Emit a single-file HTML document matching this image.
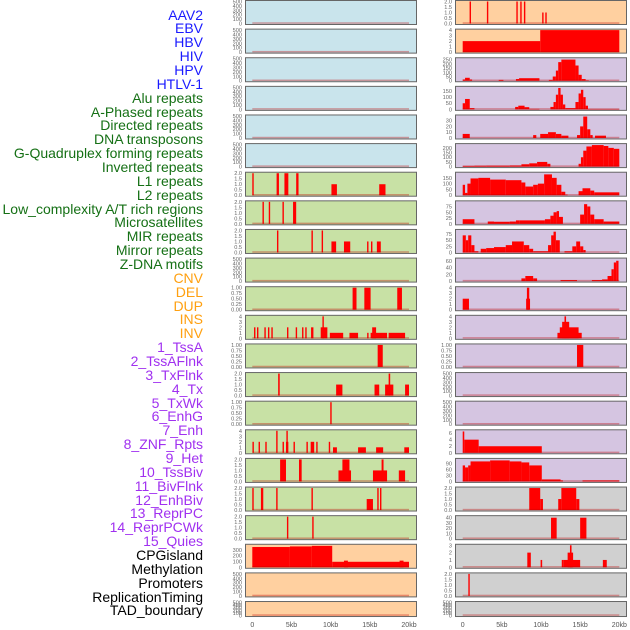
<!DOCTYPE html>
<html><head><meta charset="utf-8">
<style>
html,body{margin:0;padding:0;background:#fff;}
#wrap{position:relative;width:630px;height:630px;overflow:hidden;}
.lab{position:absolute;right:427px;font-family:"Liberation Sans",sans-serif;font-size:14px;line-height:14px;white-space:nowrap;}
svg{position:absolute;left:0;top:0;}
</style></head>
<body>
<div id="wrap">
<div id="labels"></div>
<svg id="svg" width="630" height="630"></svg>
</div>
<script>
// ---- data ----
const trackLabels = ["AAV2","EBV","HBV","HIV","HPV","HTLV-1","Alu repeats","A-Phased repeats","Directed repeats","DNA transposons","G-Quadruplex forming repeats","Inverted repeats","L1 repeats","L2 repeats","Low_complexity A/T rich regions","Microsatellites","MIR repeats","Mirror repeats","Z-DNA motifs","CNV","DEL","DUP","INS","INV","1_TssA","2_TssAFlnk","3_TxFlnk","4_Tx","5_TxWk","6_EnhG","7_Enh","8_ZNF_Rpts","9_Het","10_TssBiv","11_BivFlnk","12_EnhBiv","13_ReprPC","14_ReprPCWk","15_Quies","CPGisland","Methylation","Promoters","ReplicationTiming","TAD_boundary"];
const labelGroups = [6,13,5,15,5];
const groupColors = ["#1a1aff","#157015","#ffa010","#a030f0","#000000"];
const xTickLabels = ["0","5kb","10kb","15kb","20kb"];
const xTickValues = [0,5,10,15,20];
const T500=[0,100,200,300,400,500], T2=[0,0.5,1,1.5,2], T1=[0,0.25,0.5,0.75,1], T4=[0,1,2,3,4];
// left column panels: [yMax, ticks, segments [startKb,endKb,value]]
const leftMax = [500,500,500,500,500,500,2,2,2,500,1,4,1,2,1,4,2,2,2,380,500,500];
const leftTicks = [T500,T500,T500,T500,T500,T500,T2,T2,T2,T500,T1,T4,T1,T2,T1,T4,T2,T2,T2,[0,100,200,300],T500,T500];
const leftSegs = [
 [],[],[],[],[],[],
 [[0,0.1,2],[3.1,3.4,2],[4.1,4.6,2],[5.6,5.9,2],[10.1,10.8,1],[16.2,17.0,1]],
 [[1.3,1.4,2],[2.1,2.2,2],[3.85,3.95,2],[5.2,5.6,2]],
 [[3.15,3.25,2],[7.55,7.65,2],[8.85,8.95,2],[10.1,10.7,1],[11.7,12.5,1],[14.65,14.75,1],[15.15,15.25,1],[15.9,16.4,1]],
 [],
 [[12.8,13.3,1],[14.3,15.1,1],[18.5,19.1,1]],
 [[0.22,0.3,2],[0.6,0.68,2],[1.54,1.62,2],[2.0,2.1,2],[2.43,2.51,2],[4.43,4.51,2],[5.54,5.62,2],[6.35,6.43,2],[6.76,6.84,2],[7.5,7.8,2],[8.73,9.58,2],[8.95,9.1,4],[9.9,11.6,1],[12.4,13.5,1],[14.66,14.74,1],[15.1,17.2,1],[15.3,15.8,2],[17.4,19.5,1]],
 [[16.0,16.65,1]],
 [[3.3,3.5,2],[10.7,11.5,1],[15.6,16.2,1],[16.95,18.0,1],[17.4,17.6,2],[19.5,20.0,1]],
 [[9.95,10.1,1]],
 [[0.02,0.1,2],[0.8,0.88,2],[1.66,1.74,2],[3.05,3.15,4],[3.86,3.94,2],[4.3,4.6,2],[4.35,4.5,4],[5.26,5.34,2],[6.91,6.99,2],[7.45,7.9,2],[8.16,8.24,2],[9.76,9.84,2],[10.3,10.8,1],[13.5,14.5,1],[15.8,16.7,1],[19.4,20.0,1]],
 [[3.55,4.3,2],[5.96,6.3,2],[11.0,12.6,1],[11.5,12.4,2],[15.4,17.2,1],[16.5,16.75,2],[18.7,19.5,1]],
 [[0,0.1,2],[1.1,1.4,2],[3.05,3.15,2],[7.55,7.65,2],[14.6,15.4,1],[15.95,16.05,2],[16.3,16.4,2]],
 [[4.42,4.52,2],[7.65,7.75,2]],
 [[0,4.8,350],[4.8,7.6,360],[7.6,10.2,370],[10.2,20,95],[11.7,12.2,115],[18.8,19.3,115]],
 [],[]
];
// right column panels
const rightMax = [2,4,260,180,38,235,190,95,90,65,4,4,1,500,500,6.7,110,2,42,3,2,500];
const rightTicks = [T2,T4,[0,50,100,150,200,250],[0,50,100,150],[0,10,20,30],[0,50,100,150,200],[0,50,100,150],[0,25,50,75],[0,25,50,75],[0,20,40,60],T4,T4,T1,T500,T500,[0,2,4,6],[0,30,60,90],T2,[0,10,20,30,40],[0,1,2,3],T2,T500];
const rightSegs = [
 [[0.88,0.98,2],[3.09,3.19,2],[6.85,6.95,2],[7.35,7.45,2],[7.82,7.92,2],[10.15,10.25,1],[10.55,10.65,1]],
 [[0,9.9,2],[9.9,20,4]],
 [[0,0.3,15],[0.3,0.9,35],[0.9,1.2,15],[4.6,5.2,10],[6.8,7.2,20],[7.2,9.8,30],[11.0,11.5,10],[11.5,11.9,50],[11.9,12.2,120],[12.2,12.6,220],[12.6,14.4,250],[14.4,14.8,180],[14.8,15.2,70],[15.2,15.7,20],[15.7,16.1,5]],
 [[0,0.3,50],[0.3,0.9,85],[0.9,1.5,10],[6.7,7.1,20],[7.1,7.9,30],[7.9,8.5,18],[8.5,9.8,4],[11.2,11.6,20],[11.6,11.9,60],[11.9,12.2,120],[12.2,12.5,175],[12.5,12.8,120],[12.8,13.1,40],[13.1,14.4,10],[14.4,14.8,60],[14.8,15.1,130],[15.1,15.4,160],[15.4,15.7,100],[15.7,16.0,30],[16.0,20,3]],
 [[0,0.9,7],[9.0,9.4,5],[9.9,10.9,7],[10.9,11.9,10],[11.9,12.6,7],[12.6,13.5,4],[14.6,15.0,5],[15.0,15.4,20],[15.4,15.9,37],[15.9,16.3,15],[16.3,16.6,5],[16.9,18.3,4]],
 [[0,1.5,7],[1.5,3.0,9],[3.0,6.0,10],[6.0,7.5,12],[7.5,8.5,25],[8.5,9.5,35],[9.5,10.8,50],[10.8,11.2,30],[14.8,15.1,30],[15.1,15.4,100],[15.4,15.8,170],[15.8,16.5,215],[16.5,18.0,230],[18.0,18.6,220],[18.6,19.3,200],[19.3,20,190]],
 [[0,0.3,90],[0.3,0.6,20],[0.6,1.0,100],[1.0,2.0,145],[2.0,3.5,150],[3.5,5.5,135],[5.5,7.5,130],[7.5,8.0,110],[8.0,9.0,75],[9.0,9.6,90],[9.6,10.4,100],[10.4,11.4,180],[11.4,12.0,150],[12.0,12.6,90],[12.6,13.1,30],[13.1,13.4,5],[14.8,15.3,35],[15.3,16.3,60],[16.3,16.8,40],[16.8,20,25]],
 [[0,1.5,20],[3.2,4.0,10],[4.0,6.0,9],[6.0,6.8,10],[6.8,7.3,15],[7.3,10.5,15],[10.5,11.2,20],[11.2,11.6,35],[11.6,12.0,50],[12.0,12.3,55],[12.3,12.8,30],[15.0,15.5,40],[15.5,15.9,85],[15.9,16.3,75],[16.3,16.8,40],[16.8,18.0,20],[18.0,20,10]],
 [[0,0.4,70],[0.4,0.7,50],[0.7,1.1,70],[1.1,1.5,30],[1.5,2.0,5],[2.3,3.0,15],[3.0,4.0,18],[4.0,5.5,22],[5.5,6.3,30],[6.3,7.8,45],[7.8,8.5,30],[8.5,9.0,15],[9.0,10.9,5],[10.9,11.3,30],[11.3,11.6,70],[11.6,11.9,85],[11.9,12.4,50],[13.0,14.0,5],[14.0,14.5,25],[14.5,15.0,45],[15.0,15.4,25],[15.4,15.7,10]],
 [[7.5,8.0,8],[8.0,9.0,15],[9.0,9.5,8],[12.5,14.6,3],[16.5,17.8,3],[17.8,18.5,5],[18.5,19.0,15],[19.0,19.3,35],[19.3,19.6,55],[19.6,19.9,60]],
 [[0,0.8,2],[8.1,8.6,2],[8.2,8.5,4]],
 [[12.1,15.2,1],[12.4,14.8,2],[12.7,13.6,3],[13.0,13.2,4]],
 [[14.6,15.4,1]],
 [],[],
 [[0,0.2,6.5],[0.2,2.04,4],[2.04,10.1,2]],
 [[0,0.3,80],[0.3,0.7,70],[0.7,1.0,80],[1.0,3.5,100],[3.5,6.0,105],[6.0,7.5,100],[7.5,8.5,95],[8.5,10.1,80],[10.1,12.5,10],[12.5,12.8,5],[15.3,20,5]],
 [[8.5,9.9,2],[9.9,10.25,1],[12.2,12.6,1],[12.6,14.5,2],[14.5,14.9,1]],
 [[11.28,12.0,40],[15.0,15.8,40]],
 [[8.25,8.7,2],[9.95,10.15,1],[12.65,12.9,1],[12.9,15.0,1],[13.4,14.1,2],[13.7,13.9,3],[17.9,18.4,1]],
 [[0.72,0.82,2]],
 []
];
const leftBg = ["#c9e4ec","#c9e4ec","#c9e4ec","#c9e4ec","#c9e4ec","#c9e4ec","#c8e1a5","#c8e1a5","#c8e1a5","#c8e1a5","#c8e1a5","#c8e1a5","#c8e1a5","#c8e1a5","#c8e1a5","#c8e1a5","#c8e1a5","#c8e1a5","#c8e1a5","#ffd0a0","#ffd0a0","#ffd0a0"];
const rightBg = ["#ffd0a0","#ffd0a0","#d5c5e1","#d5c5e1","#d5c5e1","#d5c5e1","#d5c5e1","#d5c5e1","#d5c5e1","#d5c5e1","#d5c5e1","#d5c5e1","#d5c5e1","#d5c5e1","#d5c5e1","#d5c5e1","#d5c5e1","#d0d0d0","#d0d0d0","#d0d0d0","#d0d0d0","#d0d0d0"];

// ---- render ----
const NS="http://www.w3.org/2000/svg";
const svg=document.getElementById('svg');
function mk(tag,attrs,parent){const e=document.createElementNS(NS,tag);for(const k in attrs)e.setAttribute(k,attrs[k]);(parent||svg).appendChild(e);return e;}

// labels
const labDiv=document.getElementById('labels');
let li=0;
labelGroups.forEach((n,g)=>{for(let j=0;j<n;j++,li++){
 const d=document.createElement('div');
 d.className='lab';d.style.top=(15+li*13.86-7.5)+'px';d.style.color=groupColors[g];
 d.textContent=trackLabels[li];
 
 
 labDiv.appendChild(d);
}});

const cols=[{px:245,pw:171,x0:252.3,x1:409,max:leftMax,ticks:leftTicks,segs:leftSegs,bg:leftBg,name:'left'},
            {px:455,pw:171,x0:462.7,x1:619.3,max:rightMax,ticks:rightTicks,segs:rightSegs,bg:rightBg,name:'right'}];
const pitch=28.62;
function fmt(v,ticks){const mx=Math.max(...ticks);if(mx<=1)return v.toFixed(2);if(mx<=2)return v.toFixed(1);return String(v);}
cols.forEach(c=>{
 const xs=kb=>c.x0+(c.x1-c.x0)*kb/20;
 for(let r=0;r<22;r++){
  const top=r*pitch, h=(r===21?16:25);
  const yb=top+h-1.5, yt=top+1.5;
  const ys=v=>yb-(yb-yt)*v/c.max[r];
  const g=mk('g',{});
  
  
  mk('rect',{x:c.px+0.5,y:top+0.5,width:c.pw,height:h-1,fill:c.bg[r],stroke:'#666','stroke-width':1},g);
  c.segs[r].forEach(s=>{
   const x=xs(s[0]),w=Math.max(1.4,xs(s[1])-xs(s[0]));
   const b=mk('rect',{x:x,y:ys(s[2]),width:w,height:yb-ys(s[2]),fill:'#ff0000'},g);
   
   
  });
  mk('rect',{x:xs(0),y:yb-1.2,width:xs(20)-xs(0),height:1.5,fill:'rgba(190,0,0,0.35)'},g);
  c.ticks[r].forEach(v=>{
   const t=mk('text',{x:c.px-3,y:ys(v)+2,'text-anchor':'end','font-size':'5.6','font-family':'Liberation Sans, sans-serif',fill:'#666'},g);
   t.textContent=fmt(v,c.ticks[r]);
   
   
  });
 }
 xTickValues.forEach((v,i)=>{
  const t=mk('text',{x:xs(v),y:627,'text-anchor':'middle','font-size':'7','font-family':'Liberation Sans, sans-serif',fill:'#555'});
  t.textContent=xTickLabels[i];
  
  
 });
});
</script>
</body></html>
